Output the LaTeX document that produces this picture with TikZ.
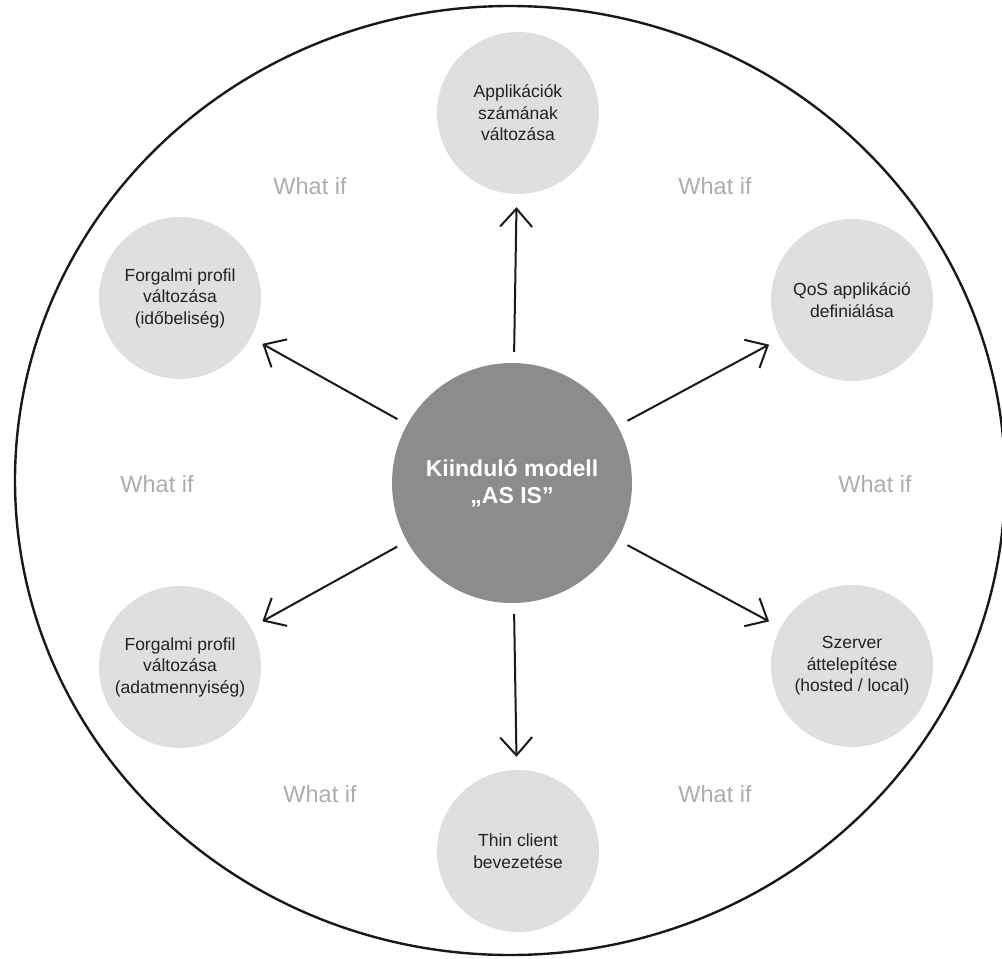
\documentclass[tikz,border=0pt]{standalone}
\usepackage{fontspec}
\setmainfont{Liberation Sans}
\usetikzlibrary{arrows.meta}
\definecolor{satfill}{HTML}{DFDFDF}
\definecolor{corefill}{HTML}{8C8C8C}
\definecolor{whatifc}{HTML}{ADADAD}
\definecolor{txtc}{HTML}{222222}
\begin{document}
\begin{tikzpicture}[x=1pt,y=-1pt,
  satnode/.style={circle, fill=satfill, minimum size=162pt, inner sep=0pt, align=center, text=txtc, font=\fontsize{17.5}{21.5}\selectfont},
  corenode/.style={circle, fill=corefill, minimum size=240pt, inner sep=0pt, align=center, text=white, font=\fontsize{23}{27}\selectfont\bfseries},
  whatif/.style={text=whatifc, font=\fontsize{23.5}{27}\selectfont},
  arr/.style={draw=black!90, line width=2pt, -{Straight Barb[length=18pt,width=32pt,line width=2pt]}, shorten <=11pt, shorten >=13pt}]
\useasboundingbox (0,0) rectangle (1002,959);
\draw[line width=2.4pt, black!90] (510,480.5) ellipse [x radius=495, y radius=474.5];
\node[corenode] (core) at (512,483) {Kiinduló modell\\„AS IS”};
\node[satnode] (top) at (518,113) {Applikációk\\számának\\változása};
\node[satnode] (ur) at (852,300) {QoS applikáció\\definiálása};
\node[satnode] (lr) at (852,666) {Szerver\\áttelepítése\\(hosted / local)};
\node[satnode] (bot) at (518,851) {Thin client\\bevezetése};
\node[satnode] (ll) at (180,667) {Forgalmi profil\\változása\\(adatmennyiség)};
\node[satnode] (ul) at (180,298) {Forgalmi profil\\változása\\(időbeliség)};
\foreach \t in {top,ur,lr,bot,ll,ul} \draw[arr] (core) -- (\t);
\node[whatif] (w1) at (310,186) {What if};
\node[whatif] (w2) at (715,186) {What if};
\node[whatif] (w3) at (157,484) {What if};
\node[whatif] (w4) at (875,484) {What if};
\node[whatif] (w5) at (320,794) {What if};
\node[whatif] (w6) at (715,794) {What if};
\end{tikzpicture}
\end{document}
